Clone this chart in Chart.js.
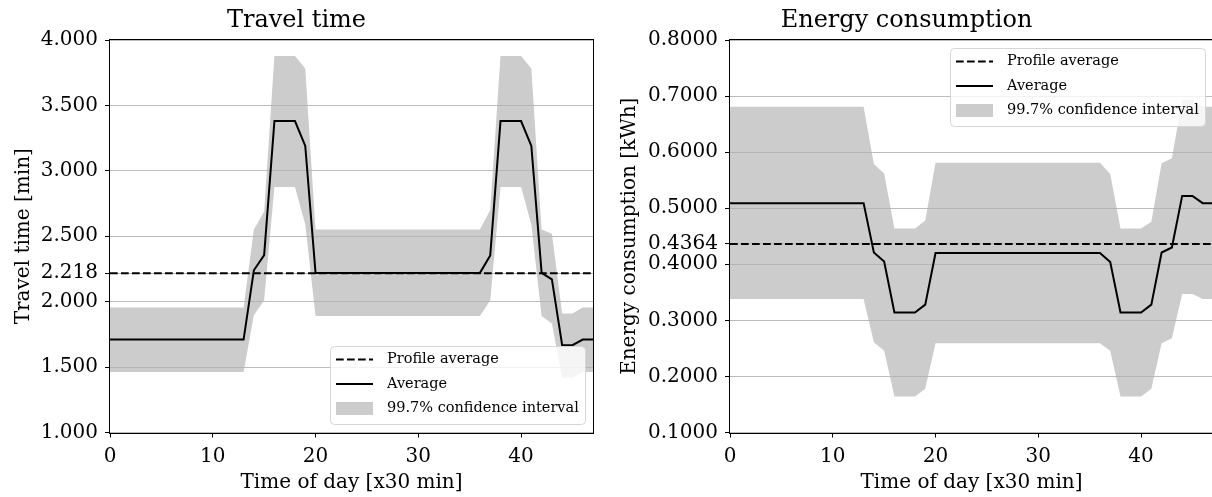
<!DOCTYPE html>
<html><head><meta charset="utf-8">
<script src="https://cdn.jsdelivr.net/npm/chart.js@4.4.1/dist/chart.umd.min.js"></script>
<style>
html,body{margin:0;padding:0;background:#fff;overflow:hidden;width:1212px;height:497px;}
canvas{position:absolute;top:0;}
#c1{left:0;} #c2{left:600px;}
</style></head><body>
<canvas id="c1" width="600" height="497"></canvas>
<canvas id="c2" width="613" height="497"></canvas>
<script>
// ---- data ----
const TIME = [0,1,2,3,4,5,6,7,8,9,10,11,12,13,14,15,16,17,18,19,20,21,22,23,24,25,26,27,28,29,30,31,32,33,34,35,36,37,38,39,40,41,42,43,44,45,46,47];
const X_TICKS = [0,10,20,30,40];

const TT_AVG = [1.71,1.71,1.71,1.71,1.71,1.71,1.71,1.71,1.71,1.71,1.71,1.71,1.71,1.71,
  2.24,2.356,3.38,3.38,3.38,3.19,
  2.22,2.22,2.22,2.22,2.22,2.22,2.22,2.22,2.22,2.22,2.22,2.22,2.22,2.22,2.22,2.22,2.22,
  2.353,3.38,3.38,3.38,3.19,2.22,2.17,1.667,1.667,1.71,1.71];
const TT_HI = [1.956,1.956,1.956,1.956,1.956,1.956,1.956,1.956,1.956,1.956,1.956,1.956,1.956,1.956,
  2.552,2.69,3.877,3.877,3.877,3.783,
  2.552,2.552,2.552,2.552,2.552,2.552,2.552,2.552,2.552,2.552,2.552,2.552,2.552,2.552,2.552,2.552,2.552,
  2.70,3.877,3.877,3.877,3.783,2.552,2.52,1.91,1.91,1.956,1.956];
const TT_LO = [1.463,1.463,1.463,1.463,1.463,1.463,1.463,1.463,1.463,1.463,1.463,1.463,1.463,1.463,
  1.897,2.01,2.877,2.877,2.877,2.59,
  1.89,1.89,1.89,1.89,1.89,1.89,1.89,1.89,1.89,1.89,1.89,1.89,1.89,1.89,1.89,1.89,1.89,
  2.01,2.877,2.877,2.877,2.59,1.89,1.833,1.418,1.42,1.463,1.463];
const TT_PROFILE = 2.218;
const TT_YTICKS = [1.0,1.5,2.0,2.218,2.5,3.0,3.5,4.0];

const EC_AVG = [0.509,0.509,0.509,0.509,0.509,0.509,0.509,0.509,0.509,0.509,0.509,0.509,0.509,0.509,
  0.421,0.405,0.314,0.314,0.314,0.328,
  0.42,0.42,0.42,0.42,0.42,0.42,0.42,0.42,0.42,0.42,0.42,0.42,0.42,0.42,0.42,0.42,0.42,
  0.404,0.314,0.314,0.314,0.328,0.421,0.43,0.522,0.522,0.509,0.509];
const EC_HI = [0.681,0.681,0.681,0.681,0.681,0.681,0.681,0.681,0.681,0.681,0.681,0.681,0.681,0.681,
  0.579,0.562,0.464,0.464,0.464,0.478,
  0.581,0.581,0.581,0.581,0.581,0.581,0.581,0.581,0.581,0.581,0.581,0.581,0.581,0.581,0.581,0.581,0.581,
  0.561,0.464,0.464,0.464,0.476,0.58,0.589,0.693,0.693,0.681,0.681];
const EC_LO = [0.338,0.338,0.338,0.338,0.338,0.338,0.338,0.338,0.338,0.338,0.338,0.338,0.338,0.338,
  0.261,0.246,0.164,0.164,0.164,0.178,
  0.259,0.259,0.259,0.259,0.259,0.259,0.259,0.259,0.259,0.259,0.259,0.259,0.259,0.259,0.259,0.259,0.259,
  0.246,0.164,0.164,0.164,0.178,0.259,0.268,0.347,0.347,0.338,0.338];
const EC_PROFILE = 0.4364;
const EC_YTICKS = [0.1,0.2,0.3,0.4,0.4364,0.5,0.6,0.7,0.8];

const LEGEND_LABELS = ['Profile average','Average','99.7% confidence interval'];

// ---- style ----
const FAMILY = '"DejaVu Serif", serif';
const BAND = '#cccccc';

const gridPlugin = {
  id:'hgrid',
  beforeDatasetsDraw(chart){
    const {ctx, chartArea:ca} = chart; const ys = chart.scales.y;
    ctx.save();
    ctx.strokeStyle = 'rgba(176,176,176,0.85)'; ctx.lineWidth = 1;
    ys.ticks.forEach(t=>{
      const p = Math.round(ys.getPixelForValue(t.value)-0.5)+0.5;
      ctx.beginPath(); ctx.moveTo(ca.left,p); ctx.lineTo(ca.right,p); ctx.stroke();
    });
    ctx.restore();
  }
};
const spinePlugin = {
  id:'spines',
  afterDatasetsDraw(chart){
    const {ctx, chartArea:ca} = chart;
    ctx.save(); ctx.strokeStyle='#000'; ctx.lineWidth=1;
    ctx.strokeRect(Math.round(ca.left)-0.5, Math.round(ca.top)-0.5, Math.round(ca.right)-Math.round(ca.left)+1, Math.round(ca.bottom)-Math.round(ca.top)+1);
    ctx.restore();
  }
};
function rr(ctx,x,y,w,h,r){
  ctx.beginPath(); ctx.moveTo(x+r,y); ctx.arcTo(x+w,y,x+w,y+h,r); ctx.arcTo(x+w,y+h,x,y+h,r);
  ctx.arcTo(x,y+h,x,y,r); ctx.arcTo(x,y,x+w,y,r); ctx.closePath();
}
const legendPlugin = {
  id:'boxLegend',
  afterDraw(chart, args, opts){
    const {ctx, chartArea:ca} = chart;
    const w=255, h=78;
    const x = ca.right - 8 - w;
    const y = opts.position==='lower' ? ca.bottom - 8.5 - h : ca.top + 8;
    ctx.save();
    rr(ctx, Math.round(x)+0.5, Math.round(y)+0.5, w, h, 4);
    ctx.fillStyle='rgba(255,255,255,0.8)'; ctx.fill();
    ctx.strokeStyle='#d6d6d6'; ctx.lineWidth=1; ctx.stroke();
    const rows=[y+13.5, y+38, y+62.5];
    const hx0=x+6, hx1=x+43, tx=x+57;
    ctx.strokeStyle='#000'; ctx.lineWidth=2;
    ctx.setLineDash([7.7,3.3]);
    ctx.beginPath(); ctx.moveTo(hx0,rows[0]); ctx.lineTo(hx1,rows[0]); ctx.stroke();
    ctx.setLineDash([]);
    ctx.beginPath(); ctx.moveTo(hx0,rows[1]); ctx.lineTo(hx1,rows[1]); ctx.stroke();
    ctx.fillStyle=BAND; ctx.fillRect(hx0, rows[2]-6.5, hx1-hx0, 13);
    ctx.fillStyle='#000'; ctx.font='14.5px '+FAMILY; ctx.textBaseline='middle'; ctx.textAlign='left';
    LEGEND_LABELS.forEach((s,i)=>ctx.fillText(s, tx, rows[i]));
    ctx.restore();
  }
};

function pts(arr){ return TIME.map((t,i)=>({x:t,y:arr[i]})); }

function makeChart(id, o){
  const font = {family:FAMILY, size:20, weight:'normal'};
  return new Chart(document.getElementById(id), {
    type:'line',
    data:{datasets:[
      {label:LEGEND_LABELS[0], data:[{x:TIME[0],y:o.profile},{x:TIME[TIME.length-1],y:o.profile}],
       borderColor:'#000', borderWidth:2, borderDash:[7.7,3.3], pointRadius:0, fill:false},
      {label:LEGEND_LABELS[1], data:pts(o.avg), borderColor:'#000', borderWidth:2, pointRadius:0, fill:false, tension:0},
      {label:LEGEND_LABELS[2], data:pts(o.hi), borderColor:'transparent', borderWidth:0, backgroundColor:BAND, pointRadius:0, fill:'+1'},
      {label:'lower', data:pts(o.lo), borderColor:'transparent', borderWidth:0, pointRadius:0, fill:false}
    ]},
    options:{
      responsive:false, animation:false, devicePixelRatio:1,
      layout:{padding:{left:0,right:o.padRight,top:0,bottom:0}},
      plugins:{
        legend:{display:false}, tooltip:{enabled:false},
        filler:{drawTime:'beforeDatasetsDraw'},
        title:{display:true, text:o.title, color:'#000', font:{family:FAMILY,size:24,weight:'normal'}, padding:{top:6.6,bottom:4.6}},
        boxLegend:{position:o.legendPos}
      },
      scales:{
        x:{type:'linear', min:0, max:47,
           afterBuildTicks:s=>{ s.ticks = X_TICKS.map(v=>({value:v})); },
           afterFit:s=>{ s.height = 64.5; },
           ticks:{autoSkip:false, maxRotation:0, color:'#000', font, padding:7, callback:v=>String(v)},
           grid:{drawOnChartArea:false, drawTicks:true, tickLength:5, tickColor:'#000', tickWidth:1},
           border:{display:false},
           title:{display:true, text:'Time of day [x30 min]', color:'#000', font, padding:{top:0,bottom:2}}},
        y:{type:'linear', min:o.yMin, max:o.yMax,
           afterBuildTicks:s=>{ s.ticks = o.yTicks.map(v=>({value:v})); },
           afterFit:s=>{ s.width = o.yWidth; },
           ticks:{autoSkip:false, color:'#000', font, padding:7, callback:v=>Number(v).toFixed(o.dec)},
           grid:{drawOnChartArea:false, drawTicks:true, tickLength:5, tickColor:'#000', tickWidth:1},
           border:{display:false},
           title:{display:true, text:o.yTitle, color:'#000', font, padding:{top:o.yTitlePad,bottom:0}}}
      }
    },
    plugins:[gridPlugin, spinePlugin, legendPlugin]
  });
}

makeChart('c1', {title:'Travel time', yTitle:'Travel time [min]', avg:TT_AVG, hi:TT_HI, lo:TT_LO,
  profile:TT_PROFILE, yTicks:TT_YTICKS, yMin:1.0, yMax:4.0, dec:3, yWidth:110, yTitlePad:12, padRight:7, legendPos:'lower'});
makeChart('c2', {title:'Energy consumption', yTitle:'Energy consumption [kWh]', avg:EC_AVG, hi:EC_HI, lo:EC_LO,
  profile:EC_PROFILE, yTicks:EC_YTICKS, yMin:0.1, yMax:0.8, dec:4, yWidth:130, yTitlePad:18, padRight:0, legendPos:'upper'});
</script>
</body></html>
